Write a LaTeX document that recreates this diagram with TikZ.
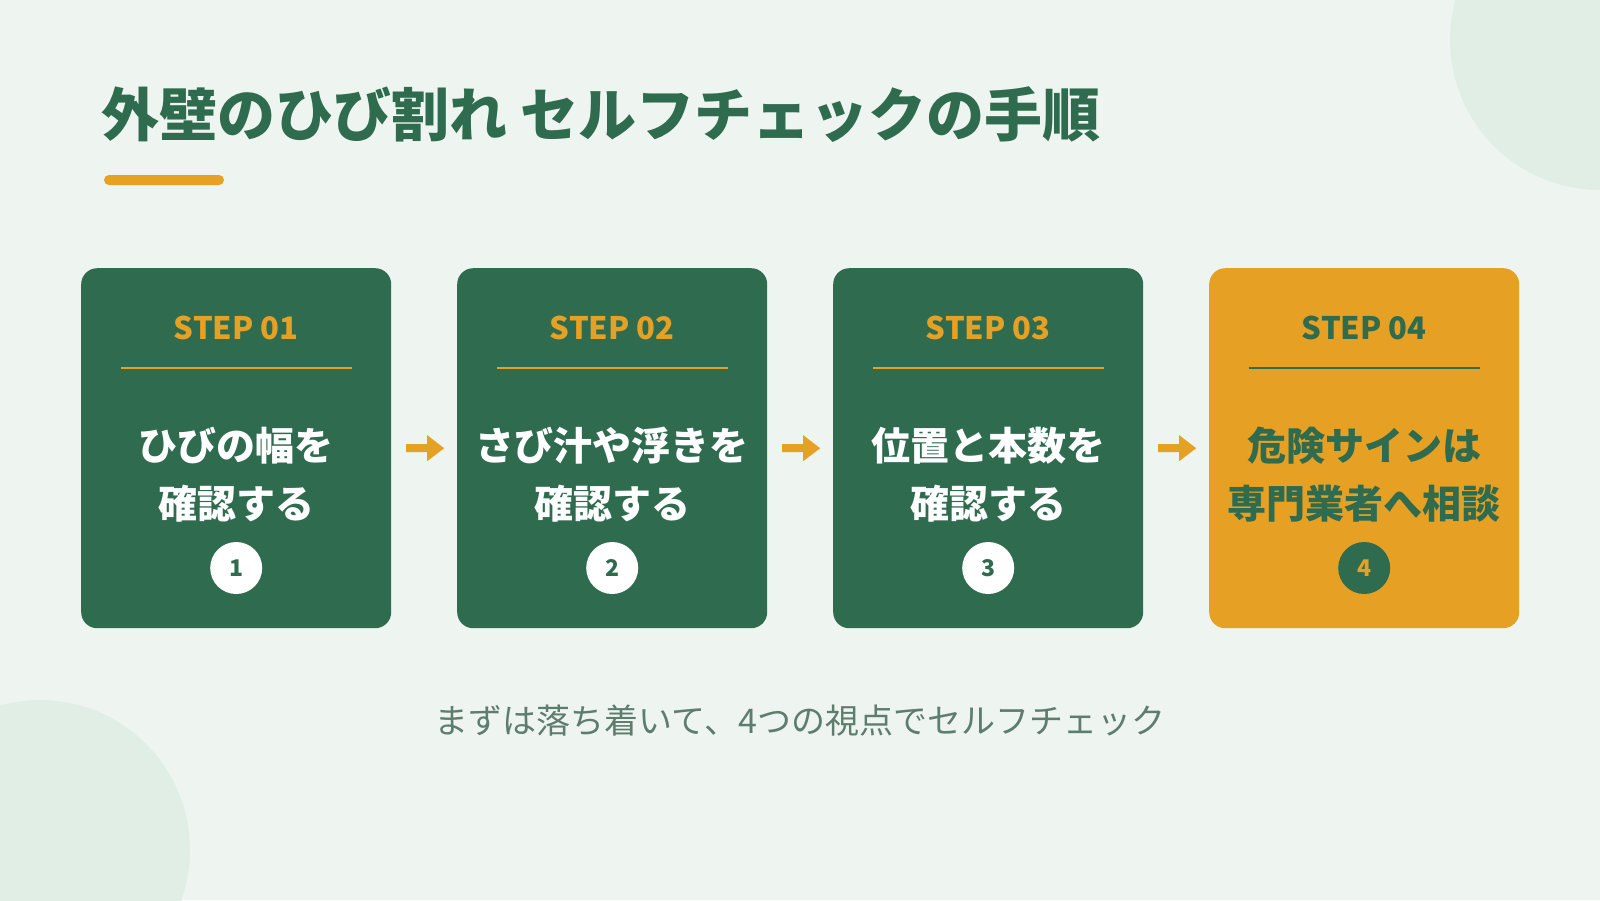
\documentclass[tikz,border=0pt]{standalone}
\usepackage{fontspec}
\usetikzlibrary{calc}
\newfontfamily\jp{Noto Sans CJK JP}
\definecolor{bgc}{HTML}{EEF5F0}
\definecolor{blob}{HTML}{E1EEE6}
\definecolor{gr}{HTML}{2E6B4F}
\definecolor{org}{HTML}{E6A024}
\definecolor{sub}{HTML}{5F7D6E}
\tikzset{
  stepbox/.style={rounded corners=16pt, minimum width=310pt, minimum height=360pt, inner sep=0pt, anchor=north west},
  steplabel/.style={font=\jp\bfseries\fontsize{31}{36}\selectfont, inner sep=0pt},
  maintext/.style={font=\jp\bfseries\fontsize{39}{58}\selectfont, align=center, inner sep=0pt},
  numcirc/.style={circle, minimum size=52pt, inner sep=0pt, font=\jp\bfseries\fontsize{23}{26}\selectfont},
  flowarrow/.style={fill=org, draw=none}
}
\begin{document}
\begin{tikzpicture}[x=1pt,y=-1pt]
\fill[bgc] (0,0) rectangle (1600,900);
\useasboundingbox (0,0) rectangle (1600,900);
\begin{scope}
\clip (0,0) rectangle (1600,900);
\fill[blob] (1600,40) circle[radius=150];
\fill[blob] (40,850) circle[radius=150];
\end{scope}
% title
\node[anchor=west, inner sep=0pt, text=gr, font=\jp\bfseries\fontsize{58}{64}\selectfont] (title) at (101,115) {外壁のひび割れ セルフチェックの手順};
\fill[org, rounded corners=5pt] (104,175) rectangle (224,185);
% boxes
\foreach \i/\x/\fc/\tc/\mc/\ttl/\la/\lb in {
  1/81/gr/org/white/STEP 01/ひびの幅を/確認する,
  2/457/gr/org/white/STEP 02/さび汁や浮きを/確認する,
  3/833/gr/org/white/STEP 03/位置と本数を/確認する,
  4/1209/org/gr/gr/STEP 04/危険サインは/専門業者へ相談}{
  \node[stepbox, fill=\fc] (box\i) at (\x,268) {};
  \node[steplabel, text=\tc] (lab\i) at ([yshift=-60pt]box\i.north) {\ttl};
  \coordinate (la\i) at ([xshift=-115.5pt,yshift=-100pt]box\i.north);
  \coordinate (lb\i) at ([xshift=115.5pt,yshift=-100pt]box\i.north);
  \draw[\tc, line width=2pt] (la\i) -- (lb\i);
  \node[maintext, text=\mc] (txt\i) at ([yshift=-207pt]box\i.north) {\la\\\lb};
}
\node[numcirc, fill=white, text=gr] (n1) at ([yshift=-300pt]box1.north) {1};
\node[numcirc, fill=white, text=gr] (n2) at ([yshift=-300pt]box2.north) {2};
\node[numcirc, fill=white, text=gr] (n3) at ([yshift=-300pt]box3.north) {3};
\node[numcirc, fill=gr, text=org] (n4) at ([yshift=-300pt]box4.north) {4};
% arrows
\foreach \a/\b in {1/2,2/3,3/4}{
  \coordinate (m\a) at ($(box\a.east)!0.5!(box\b.west)$);
  \fill[flowarrow] ([xshift=-18pt,yshift=4pt]m\a) -- ([xshift=3pt,yshift=4pt]m\a) -- ([xshift=3pt,yshift=13pt]m\a) -- ([xshift=20pt,yshift=0pt]m\a) -- ([xshift=3pt,yshift=-13pt]m\a) -- ([xshift=3pt,yshift=-4pt]m\a) -- ([xshift=-18pt,yshift=-4pt]m\a) -- cycle;
}
% footer
\node[inner sep=0pt, text=sub, font=\jp\fontsize{34}{38}\selectfont] (foot) at (800,721) {まずは落ち着いて、4つの視点でセルフチェック};
\end{tikzpicture}
\end{document}
